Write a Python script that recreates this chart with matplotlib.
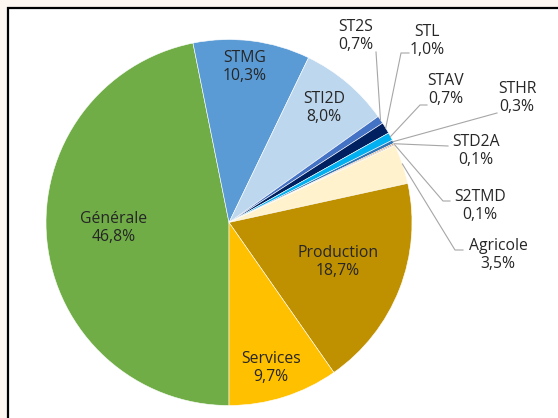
import matplotlib
matplotlib.use("Agg")
import matplotlib.pyplot as plt
from matplotlib.patches import Rectangle
import numpy as np

# data, clockwise from the bottom of the pie
categories = ["Générale", "STMG", "STI2D", "ST2S", "STL", "STAV", "STHR",
              "STD2A", "S2TMD", "Agricole", "Production", "Services"]
shares = [46.8, 10.3, 8.0, 0.7, 1.0, 0.7, 0.3, 0.1, 0.1, 3.5, 18.7, 9.7]
colours = ["#70ad47", "#5b9bd5", "#bdd7ee", "#4472c4", "#002060", "#00b0f0",
           "#2e75b6", "#c55a11", "#a5a5a5", "#fff2cc", "#bf9000", "#ffc000"]

# labels drawn inside the pie (pixel positions, y from top)
insideLabels = {
    "Générale": (114, 228),
    "STMG": (245, 67),
    "STI2D": (324, 108),
    "Production": (338, 262),
    "Services": (271, 368),
}

# outside labels: text centre and leader elbow (pixels, y from top)
outsideLabels = {
    "ST2S": ((356, 36), [(376, 52)]),
    "STL": ((427, 41), [(409, 53), (401, 53)]),
    "STAV": ((446, 90), [(427, 105), (420, 105)]),
    "STHR": ((517, 98), [(497, 113)]),
    "STD2A": ((476, 151), [(448, 146)]),
    "S2TMD": ((480, 206), [(450, 201), (443, 201)]),
    "Agricole": ((498, 255), [(463, 250), (455, 250)]),
}

W, H = 558, 418
centreX, centreY = 229, 222.5
radius = 183

fontName = "Open Sans"
fontSize = 11.3
textColour = "#262626"
leaderColour = "#a6a6a6"


def flip(p):
    return (p[0], H - p[1])


fig = plt.figure(figsize = (W / 100, H / 100), dpi = 100, facecolor = "#fdf5ef")
ax = fig.add_axes([0, 0, 1, 1])
ax.set_xlim(0, W)
ax.set_ylim(0, H)
ax.axis("off")

# white panel with dark frame (cut off at right and bottom)
ax.add_patch(Rectangle((8, -20), W + 20, H - 8 + 20, facecolor = "white",
                       edgecolor = "black", linewidth = 1.6, zorder = 0))

wedges, _ = ax.pie(shares, colors = colours, startangle = 270, counterclock = False,
                   center = (centreX, H - centreY), radius = radius,
                   wedgeprops = dict(edgecolor = "white", linewidth = 0.4))
ax.set_xlim(0, W)
ax.set_ylim(0, H)

for name, pct, wedge in zip(categories, shares, wedges):
    valueStr = f"{pct:.1f}".replace(".", ",") + "%"
    text = f"{name}\n{valueStr}"

    if name in insideLabels:
        x, y = flip(insideLabels[name])
        ax.text(x, y, text, ha = "center", va = "center", fontsize = fontSize,
                family = fontName, color = textColour, linespacing = 1.15)
        continue

    pos, elbow = outsideLabels[name]
    x, y = flip(pos)
    ax.text(x, y, text, ha = "center", va = "center", fontsize = fontSize,
            family = fontName, color = textColour, linespacing = 1.15)

    mid = np.deg2rad((wedge.theta1 + wedge.theta2) / 2)
    start = (centreX + radius * np.cos(mid), H - centreY + radius * np.sin(mid))
    pts = [start] + [flip(p) for p in elbow[::-1]]
    xs, ys = zip(*pts)
    ax.plot(xs, ys, color = leaderColour, linewidth = 0.8, zorder = 3)

fig.savefig("out.png", dpi = 100, facecolor = fig.get_facecolor())
